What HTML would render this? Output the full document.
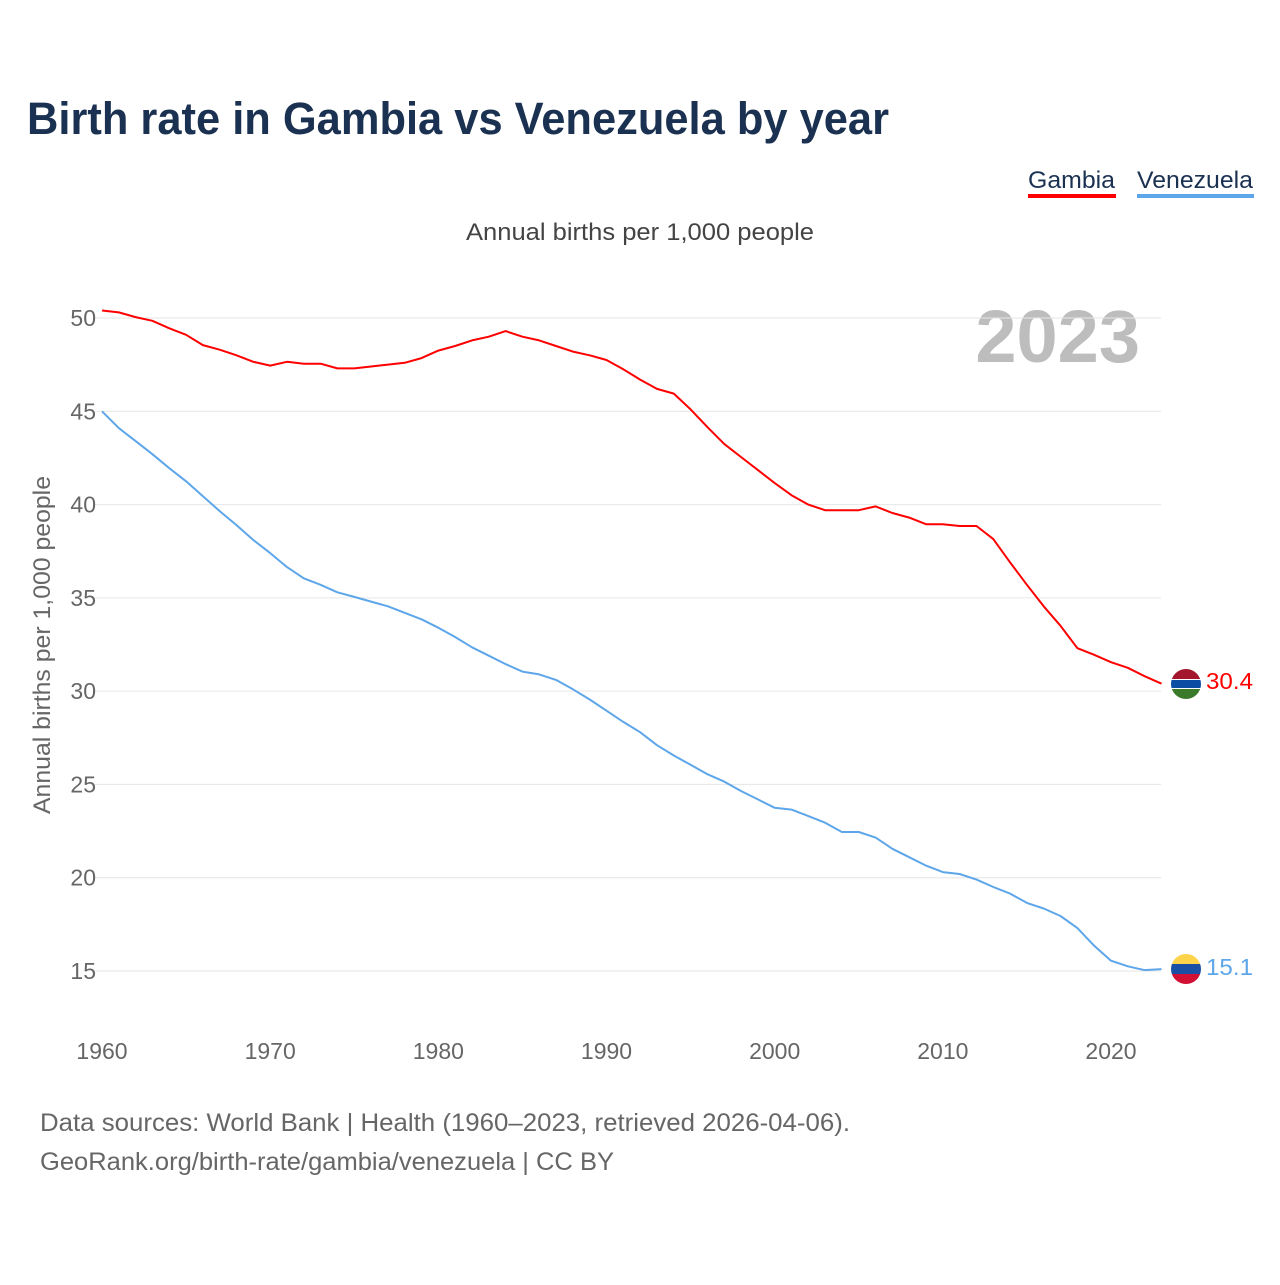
<!DOCTYPE html>
<html><head><meta charset="utf-8">
<style>
html,body{margin:0;padding:0;background:#fff;}
body{width:1280px;height:1280px;position:relative;overflow:hidden;font-family:"Liberation Sans",sans-serif;}
svg text{font-family:"Liberation Sans",sans-serif;}
</style></head>
<body>
<svg id="chart" width="1280" height="1280">
<text x="27" y="134" font-size="45" font-weight="bold" fill="#1b3151" textLength="862" lengthAdjust="spacingAndGlyphs">Birth rate in Gambia vs Venezuela by year</text>
<g>
<text x="1028" y="188" font-size="24" fill="#1b3151" textLength="87" lengthAdjust="spacingAndGlyphs">Gambia</text>
<rect x="1028" y="194" width="88" height="4" fill="#ff0000"/>
</g>
<g>
<text x="1137" y="188" font-size="24" fill="#1b3151" textLength="116" lengthAdjust="spacingAndGlyphs">Venezuela</text>
<rect x="1137" y="194" width="117" height="4" fill="#5ea6ea"/>
</g>
<text x="466" y="240" font-size="24" fill="#444" textLength="348" lengthAdjust="spacingAndGlyphs">Annual births per 1,000 people</text>
<text x="1140" y="362" font-size="74" font-weight="bold" fill="#bdbdbd" text-anchor="end">2023</text>
<text transform="translate(50,645) rotate(-90)" font-size="24" fill="#666" text-anchor="middle" textLength="338" lengthAdjust="spacingAndGlyphs">Annual births per 1,000 people</text>
<g id="grid"></g><g id="yticks"></g><g id="xticks"></g><g id="series"></g>
<g>
<clipPath id="cg"><circle cx="1186" cy="684" r="15"/></clipPath>
<g clip-path="url(#cg)"><rect x="1170" y="668" width="32" height="11" fill="#a3162d"/><rect x="1170" y="679" width="32" height="10" fill="#fff"/><rect x="1170" y="680" width="32" height="8" fill="#0c4ca3"/><rect x="1170" y="689" width="32" height="12" fill="#3b7a2a"/></g>
</g>
<g>
<clipPath id="cv"><circle cx="1186" cy="969" r="15"/></clipPath>
<g clip-path="url(#cv)"><rect x="1170" y="953" width="32" height="11" fill="#fcd34a"/><rect x="1170" y="964" width="32" height="10" fill="#1a4fa6"/><rect x="1170" y="974" width="32" height="12" fill="#d21034"/></g>
</g>
<text x="1206" y="689" font-size="23" fill="#ff0000" textLength="47" lengthAdjust="spacingAndGlyphs">30.4</text>
<text x="1206" y="975" font-size="23" fill="#5ea6ea" textLength="47" lengthAdjust="spacingAndGlyphs">15.1</text>
<text x="40" y="1131" font-size="25" fill="#666" textLength="810" lengthAdjust="spacingAndGlyphs">Data sources: World Bank | Health (1960–2023, retrieved 2026-04-06).</text>
<text x="40" y="1170" font-size="25" fill="#666" textLength="574" lengthAdjust="spacingAndGlyphs">GeoRank.org/birth-rate/gambia/venezuela | CC BY</text>
</svg>
<script>
const years = [];
for (let y = 1960; y <= 2023; y++) years.push(y);
const gambia = [50.4,50.3,50.05,49.85,49.45,49.1,48.55,48.3,48.0,47.65,47.45,47.65,47.55,47.55,47.3,47.3,47.4,47.5,47.6,47.85,48.25,48.5,48.8,49.0,49.3,49.0,48.8,48.5,48.2,48.0,47.75,47.25,46.7,46.2,45.95,45.1,44.15,43.25,42.55,41.85,41.15,40.5,40.0,39.7,39.7,39.7,39.9,39.55,39.3,38.95,38.95,38.85,38.85,38.15,36.9,35.7,34.55,33.5,32.3,31.95,31.55,31.25,30.8,30.4];
const venezuela = [45.0,44.1,43.4,42.7,41.95,41.25,40.45,39.65,38.9,38.1,37.4,36.65,36.05,35.7,35.3,35.05,34.8,34.55,34.2,33.85,33.4,32.9,32.35,31.9,31.45,31.05,30.9,30.6,30.1,29.55,28.95,28.35,27.8,27.1,26.55,26.05,25.55,25.15,24.65,24.2,23.75,23.65,23.3,22.95,22.45,22.45,22.15,21.55,21.1,20.65,20.3,20.2,19.9,19.5,19.15,18.65,18.35,17.95,17.3,16.35,15.55,15.25,15.05,15.1];
const yTicks = [15,20,25,30,35,40,45,50];
const xTicks = [1960,1970,1980,1990,2000,2010,2020];

const NS = "http://www.w3.org/2000/svg";
const X = v => 102 + (v - 1960) * (1111 - 102) / 60;
const Y = v => 971 - (v - 15) * (971 - 318) / 35;
function mk(tag, attrs, parent) {
  const e = document.createElementNS(NS, tag);
  for (const k in attrs) e.setAttribute(k, attrs[k]);
  parent.appendChild(e); return e;
}
const grid = document.getElementById('grid'), yt = document.getElementById('yticks'), xt = document.getElementById('xticks'), ser = document.getElementById('series');
yTicks.forEach(v => {
  const l = mk('line', {x1:95, x2:1161, y1:Y(v), y2:Y(v), stroke:'#e6e6e6', 'stroke-width':1}, grid);
  
  
  const t = mk('text', {x:96, y:Y(v)+8, 'font-size':23, fill:'#666', 'text-anchor':'end'}, yt);
  t.textContent = v;
  
  
});
xTicks.forEach(v => {
  const t = mk('text', {x:X(v), y:1059, 'font-size':23, fill:'#666', 'text-anchor':'middle'}, xt);
  t.textContent = v;
  
  
});
function line(vals, color, name) {
  const d = vals.map((v, i) => (i ? 'L' : 'M') + X(years[i]).toFixed(1) + ',' + Y(v).toFixed(1)).join('');
  const p = mk('path', {d:d, fill:'none', stroke:color, 'stroke-width':2, 'stroke-linejoin':'round'}, ser);
  
  
}
line(gambia, '#ff0000', 'gambia-line');
line(venezuela, '#5ea6ea', 'venezuela-line');
</script>
</body></html>
